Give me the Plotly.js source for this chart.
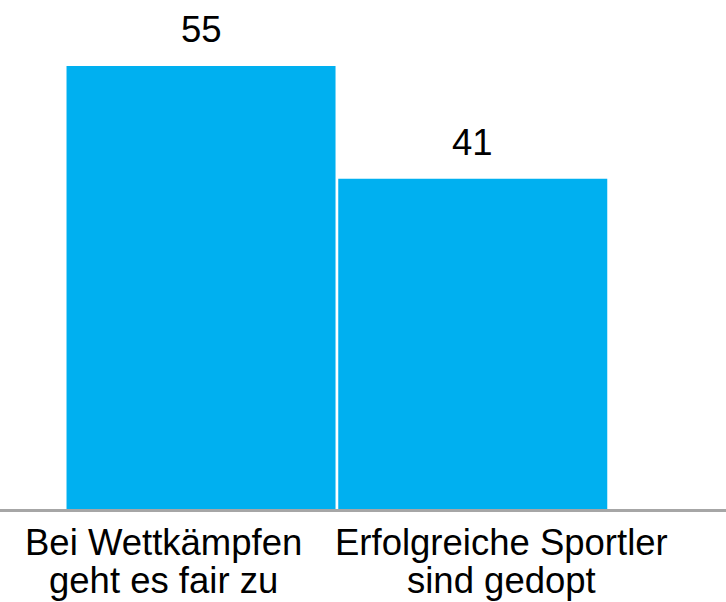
<!DOCTYPE html>
<html><head><meta charset="utf-8">
<script src="https://cdn.plot.ly/plotly-3.0.1.min.js"></script>
<style>html,body{margin:0;padding:0;background:#fff}</style>
</head><body>
<div id="chart" style="width:726px;height:602px"></div>
<script>
const categories = ["Bei Wettkämpfen geht es fair zu", "Erfolgreiche Sportler sind gedopt"];
const labelLine1 = ["Bei Wettkämpfen", "Erfolgreiche Sportler"];
const labelLine2 = ["geht es fair zu", "sind gedopt"];
const values = [55, 41];

const FONT = "Liberation Sans, Arial, sans-serif";
const labelXShift = [-38, 29];

const annotations = [];
categories.forEach((c, i) => {
  annotations.push({x: c, y: values[i], xref: 'x', yref: 'y', text: String(values[i]),
    showarrow: false, yanchor: 'bottom', yshift: 14, font: {family: FONT, size: 36.5, color: '#000'}});
  annotations.push({x: c, y: 0, xref: 'x', yref: 'paper', text: labelLine1[i],
    showarrow: false, yanchor: 'middle', yshift: -33, xshift: labelXShift[i], font: {family: FONT, size: 36.5, color: '#000'}});
  annotations.push({x: c, y: 0, xref: 'x', yref: 'paper', text: labelLine2[i],
    showarrow: false, yanchor: 'middle', yshift: -71, xshift: labelXShift[i], font: {family: FONT, size: 36.5, color: '#000'}});
});

Plotly.newPlot('chart', [{
  type: 'bar', x: categories, y: values,
  marker: {color: '#00B0F0', line: {width: 0}},
  hoverinfo: 'none'
}], {
  width: 726, height: 602,
  margin: {l: 0, r: 0, t: 0, b: 93, pad: 0},
  paper_bgcolor: '#fff', plot_bgcolor: '#fff',
  bargap: 0.01,
  showlegend: false,
  xaxis: {type: 'category', range: [-0.7398, 1.932], showticklabels: false, ticks: '',
    showgrid: false, zeroline: false, showline: true, linecolor: '#A6A6A6', linewidth: 3, automargin: false},
  yaxis: {range: [0, 63.19], visible: false, showgrid: false, zeroline: false, automargin: false},
  annotations: annotations,
  font: {family: FONT}
}, {displayModeBar: false, staticPlot: true});
</script>
</body></html>
